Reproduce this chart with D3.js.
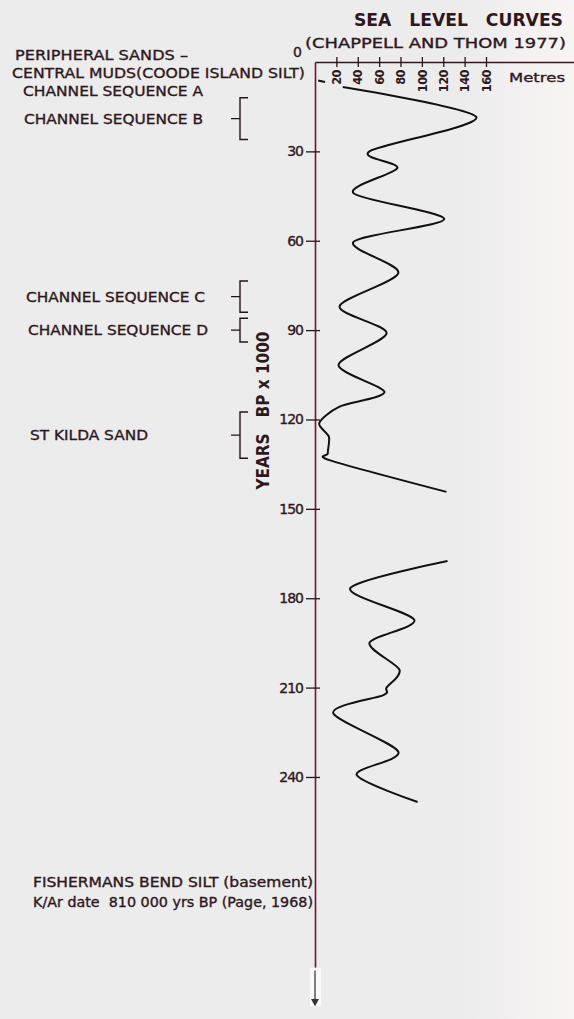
<!DOCTYPE html>
<html>
<head>
<meta charset="utf-8">
<script src="https://cdn.jsdelivr.net/npm/d3@7"></script>
<style>
  body { margin: 0; background: #ececec; }
  svg { display: block; }
  text { font-family: "DejaVu Sans", Lato, sans-serif; fill: #2e1820; }
  .lbl { stroke: #2e1820; stroke-width: 0.35px; }
</style>
</head>
<body>
<svg id="chart"></svg>
<script>
// ages in ka BP, depths in metres below present sea level
const ageTicks = [30, 60, 90, 120, 150, 180, 210, 240];
const depthTicks = [20, 40, 60, 80, 100, 120, 140, 160];

const ageA = [8.4, 18.5, 30, 35.6, 44, 52.7, 60.4, 70.8, 82, 91, 101.7, 110.8, 115.7, 121.2, 125.8, 131.3, 133.8, 144.3];
const depthA = [26, 151, 51, 77, 36, 121, 36, 78, 23, 67, 22, 65, 23, 4, 13, 12, 15, 123];

const ageB = [167.5, 176.6, 187.3, 195, 204, 210, 212.5, 218.5, 231.6, 239.3, 248.4];
const depthB = [124, 33, 93, 51, 79, 67, 64, 17, 78, 39, 96];

const ageDash = [6.2, 6.7];
const depthDash = [3, 9.4];

const unitNames = ["CHANNEL SEQUENCE B", "CHANNEL SEQUENCE C", "CHANNEL SEQUENCE D", "ST KILDA SAND"];
const unitFrom = [12, 73.5, 86, 117.5];
const unitTo = [26, 84, 94, 133];

const topLabels = ["PERIPHERAL SANDS \u2013", "CENTRAL MUDS(COODE ISLAND SILT)", "CHANNEL SEQUENCE A"];
const baseLabels = ["FISHERMANS BEND SILT (basement)", "K/Ar date  810 000 yrs BP (Page, 1968)"];

const W = 574, H = 1019;
const maroon = "#6a1533";

const svg = d3.select("#chart").attr("width", W).attr("height", H);

const grad = svg.append("defs").append("linearGradient").attr("id", "bg");
grad.append("stop").attr("offset", "0.8").attr("stop-color", "#ececec");
grad.append("stop").attr("offset", "1").attr("stop-color", "#f8f4f4");
svg.append("rect").attr("width", W).attr("height", H).attr("fill", "url(#bg)");

const y = d3.scaleLinear().domain([0, 305]).range([62, 970.6]);
const x = d3.scaleLinear().domain([0, 160]).range([315, 486]);
const xa = d3.scaleLinear().domain([0, 242]).range([x(0), x(242)]);

// vertical age axis
const yAxis = svg.append("g")
  .attr("transform", `translate(${x(0)},0)`)
  .call(d3.axisLeft(y).tickValues(ageTicks).tickSizeInner(9).tickSizeOuter(0).tickPadding(3));
yAxis.select(".domain").attr("stroke", maroon).attr("stroke-width", 1.6);
yAxis.selectAll(".tick line").attr("x1", 5).attr("stroke", "#2a1419").attr("stroke-width", 1.3);
yAxis.selectAll(".tick text")
  .attr("class", "lbl")
  .style("font-size", "14px").style("letter-spacing", "-1px").attr("fill", "#2a1419");

// arrow continuing below
svg.append("rect").attr("x", x(0) - 5).attr("y", y(304)).attr("width", 11).attr("height", y(317) - y(304))
  .attr("fill", "#fafafa");
svg.append("line").attr("x1", x(0)).attr("x2", x(0)).attr("y1", y(305)).attr("y2", y(316))
  .attr("stroke", "#555").attr("stroke-width", 1.5);
svg.append("path")
  .attr("d", `M${x(0) - 4},${y(314.5)}L${x(0) + 4},${y(314.5)}L${x(0)},${y(317)}Z`)
  .attr("fill", "#333");

// top depth axis
const xAxis = svg.append("g")
  .attr("transform", `translate(0,${y(0)})`)
  .call(d3.axisTop(xa).tickValues(depthTicks).tickSizeInner(5).tickSizeOuter(0));
xAxis.select(".domain").attr("stroke", "#3a1622").attr("stroke-width", 1.5);
xAxis.selectAll(".tick line").attr("y1", 5).attr("stroke", "#2a1419").attr("stroke-width", 1.3);
xAxis.selectAll(".tick text")
  .attr("transform", "rotate(-90)")
  .attr("x", -8).attr("y", 0).attr("dy", "0.36em")
  .attr("text-anchor", "end")
  .style("font-size", "11.5px").style("font-weight", "bold").style("letter-spacing", "-0.6px")
  .attr("fill", "#2a1419");

svg.append("text").attr("class", "lbl").attr("x", 293).attr("y", y(0) - 5).text("0")
  .style("font-size", "14px");

// sea level curves
const line = d3.line()
  .x(d => x(d[1]))
  .y(d => y(d[0]))
  .curve(d3.curveCardinal.tension(0.15));

const curves = [
  d3.zip(ageA, depthA),
  d3.zip(ageB, depthB)
];
svg.append("g").selectAll("path").data(curves).join("path")
  .attr("d", line)
  .attr("fill", "none").attr("stroke", "#141010").attr("stroke-width", 2)
  .attr("stroke-linejoin", "round");

svg.append("path")
  .attr("d", d3.line().x(d => x(d[1])).y(d => y(d[0]))(d3.zip(ageDash, depthDash)))
  .attr("stroke", "#141010").attr("stroke-width", 2);

// titles
svg.append("text").attr("x", 354).attr("y", 26)
  .attr("textLength", 209).attr("lengthAdjust", "spacingAndGlyphs")
  .style("white-space", "pre").style("font-size", "18px").style("font-weight", "bold")
  .attr("fill", "#1e1216")
  .text("SEA   LEVEL   CURVES");
svg.append("text").attr("class", "lbl").attr("x", 305).attr("y", 48)
  .attr("textLength", 261).attr("lengthAdjust", "spacingAndGlyphs")
  .style("font-size", "14px")
  .text("(CHAPPELL AND THOM 1977)");
svg.append("text").attr("class", "lbl").attr("x", 509).attr("y", 82)
  .attr("textLength", 56).attr("lengthAdjust", "spacingAndGlyphs")
  .style("font-size", "13px")
  .text("Metres");

// rotated axis title
svg.append("text")
  .attr("transform", `translate(269,${y(117)}) rotate(-90)`)
  .attr("text-anchor", "middle")
  .attr("textLength", 158).attr("lengthAdjust", "spacingAndGlyphs")
  .style("white-space", "pre").style("font-size", "18px").style("font-weight", "bold")
  .attr("fill", "#1e1216")
  .text("YEARS   BP x 1000");

// top stratigraphic labels
const topLayout = [
  { x: 15, y: 60, w: 173 },
  { x: 12, y: 78, w: 293 },
  { x: 23, y: 96, w: 180 }
];
svg.append("g").selectAll("text").data(topLabels).join("text")
  .attr("class", "lbl")
  .attr("x", (d, i) => topLayout[i].x)
  .attr("y", (d, i) => topLayout[i].y)
  .attr("textLength", (d, i) => topLayout[i].w)
  .attr("lengthAdjust", "spacingAndGlyphs")
  .style("font-size", "14.5px")
  .text(d => d);

// bracketed units
const bx = 240;
const unitW = [179, 179, 180, 118];
const units = svg.append("g").selectAll("g").data(unitNames).join("g");
units.append("path")
  .attr("d", (d, i) => {
    const y0 = y(unitFrom[i]), y1 = y(unitTo[i]), ym = (y0 + y1) / 2;
    return `M${bx + 8},${y0}H${bx}V${y1}H${bx + 8}M${bx - 9},${ym}H${bx}`;
  })
  .attr("fill", "none").attr("stroke", "#231417").attr("stroke-width", 1.4);
units.append("text")
  .attr("class", "lbl")
  .attr("x", (d, i) => 24 + i * 2)
  .attr("y", (d, i) => (y(unitFrom[i]) + y(unitTo[i])) / 2 + 5)
  .attr("textLength", (d, i) => unitW[i])
  .attr("lengthAdjust", "spacingAndGlyphs")
  .style("font-size", "14.5px")
  .text(d => d);

// basement note
svg.append("g").selectAll("text").data(baseLabels).join("text")
  .attr("class", "lbl")
  .attr("x", 33)
  .attr("y", (d, i) => 887 + i * 20)
  .attr("textLength", 280)
  .attr("lengthAdjust", "spacingAndGlyphs")
  .style("white-space", "pre").style("font-size", "13.5px")
  .text(d => d);
</script>
</body>
</html>
